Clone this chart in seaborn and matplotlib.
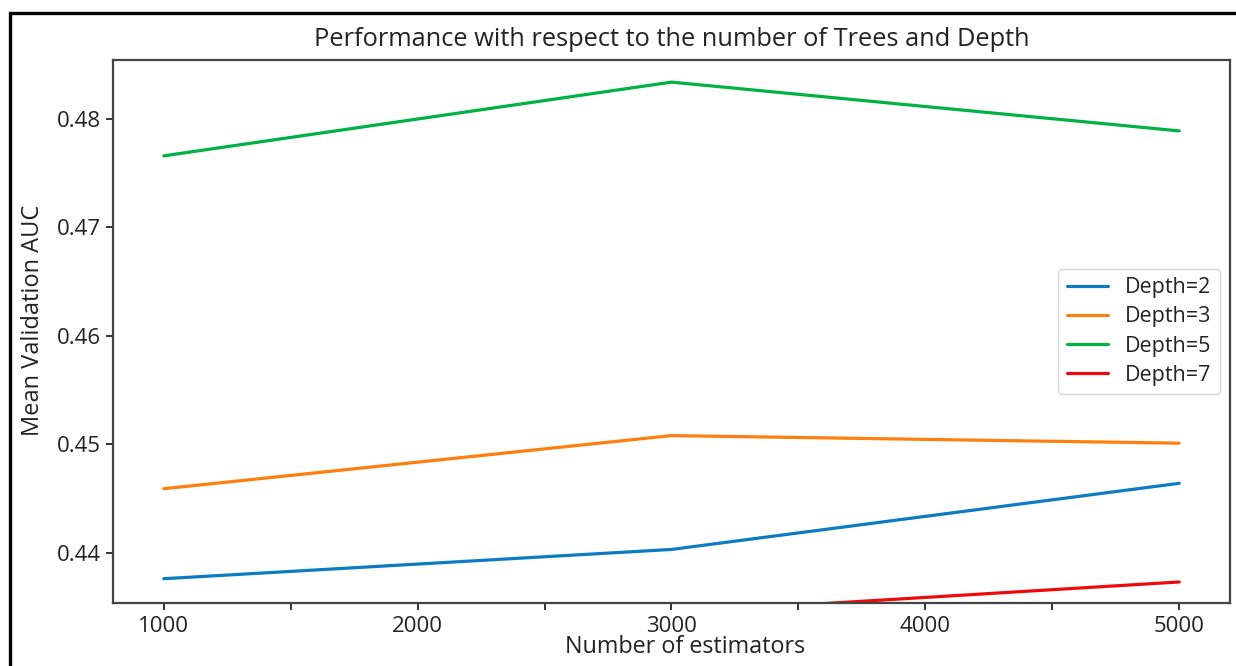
import matplotlib
matplotlib.use("Agg")
import matplotlib.pyplot as plt
from matplotlib.patches import Rectangle
from matplotlib.ticker import MultipleLocator
import numpy as np
import pandas as pd
import seaborn as sns

# Grid-search results: mean validation AUC per number of trees and depth
n_estimators = [1000, 3000, 5000]
auc_depth2 = [0.4376, 0.4403, 0.4464]
auc_depth3 = [0.4459, 0.4508, 0.4501]
auc_depth5 = [0.4766, 0.4834, 0.4789]
auc_depth7 = [0.4333, 0.43445, 0.4373]
depth_labels = ["Depth=2", "Depth=3", "Depth=5", "Depth=7"]
x_tick_labels = ["1000", "", "2000", "", "3000", "", "4000", "", "5000"]

series = [auc_depth2, auc_depth3, auc_depth5, auc_depth7]
df = pd.DataFrame({
    "n_estimators": np.tile(n_estimators, len(series)),
    "auc": np.concatenate(series),
    "depth": np.repeat(depth_labels, len(n_estimators)),
})

sns.set_theme(style="white")
plt.rcParams["font.family"] = ["Open Sans", "DejaVu Sans"]

palette = ["#0b7cc1", "#ff7f0e", "#00b244", "#ee0a0a"]

fig = plt.figure(figsize=(12.36, 6.66), dpi=100)
ax = fig.add_axes([113 / 1236, 1 - 603 / 666, (1230 - 113) / 1236, (603 - 60) / 666])

sns.lineplot(data=df, x="n_estimators", y="auc", hue="depth",
             palette=palette, linewidth=2.3, ax=ax)

ax.set_xlim(800, 5200)
ax.set_ylim(0.43536, 0.48544)
ax.set_xticks(np.arange(1000, 5001, 500))
ax.set_xticklabels(x_tick_labels)
ax.yaxis.set_major_locator(MultipleLocator(0.01))
ax.tick_params(axis="both", which="major", direction="out", length=5, width=1.4,
               color="#333333", labelsize=16, labelcolor="#222222", pad=4,
               bottom=True, left=True)

for sp in ax.spines.values():
    sp.set_color("#444444")
    sp.set_linewidth(1.6)

ax.set_title("Performance with respect to the number of Trees and Depth",
             fontsize=18.3, color="#222222", pad=10)
ax.set_xlabel("Number of estimators", fontsize=16.8, color="#222222", labelpad=-1)
ax.xaxis.label.set_x(0.512)
ax.set_ylabel("Mean Validation AUC", fontsize=17, color="#222222", labelpad=8)
ax.yaxis.label.set_y(0.52)

leg = ax.legend(loc="center right", fontsize=15.5, frameon=True,
                handlelength=1.9, borderaxespad=0.45, labelspacing=0.38)
leg.get_frame().set_edgecolor("#cccccc")
leg.get_frame().set_linewidth(1.0)
for t in leg.get_texts():
    t.set_color("#222222")

# Outer border of the figure panel
fig.patches.append(Rectangle((10 / 1236, -0.1), 1.2, 1 - 13 / 666 + 0.1,
                             transform=fig.transFigure, fill=False,
                             edgecolor="black", linewidth=2.4, zorder=10))

fig.savefig("out.png", dpi=100)
